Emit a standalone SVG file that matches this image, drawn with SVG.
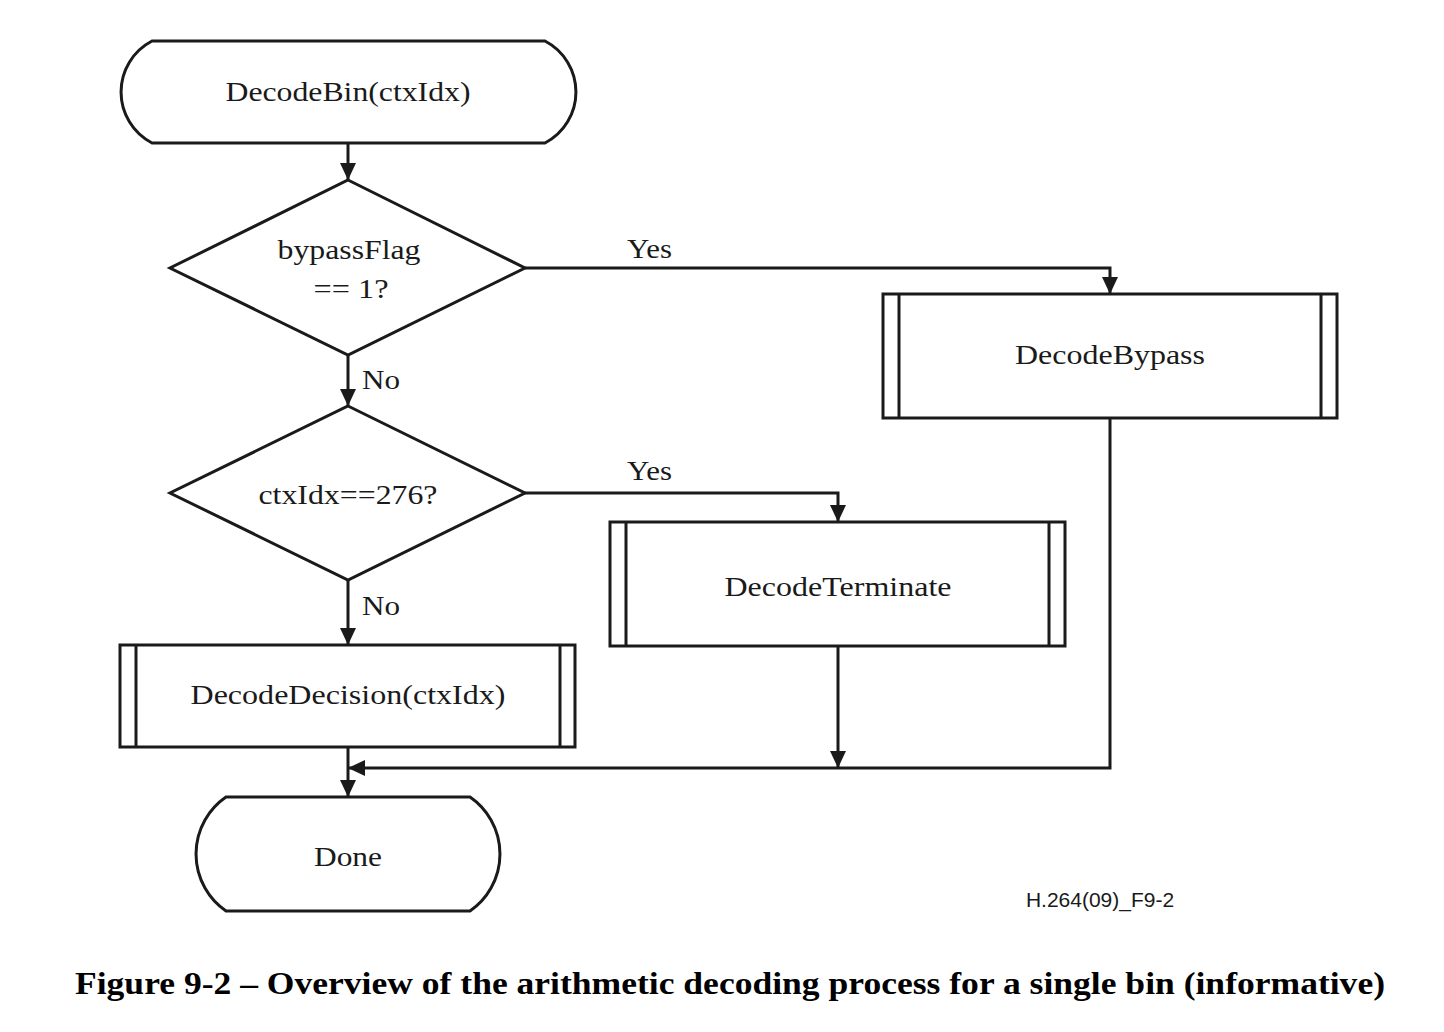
<svg xmlns="http://www.w3.org/2000/svg" width="1444" height="1032" viewBox="0 0 1444 1032">
<defs>
<marker id="ah" markerWidth="17" markerHeight="16" refX="17" refY="8" orient="auto" markerUnits="userSpaceOnUse">
<path d="M0,0 L17,8 L0,16 Z" fill="#1a1a1a"/>
</marker>
<style>
.s{fill:#fff;stroke:#1a1a1a;stroke-width:3}
.l{fill:none;stroke:#1a1a1a;stroke-width:3}
.t{font-family:"Liberation Serif","Times New Roman",serif;font-size:28px;fill:#1a1a1a;text-anchor:middle}
.lb{font-family:"Liberation Serif","Times New Roman",serif;font-size:28px;fill:#1a1a1a}
.c{fill:none;stroke:#1a1a1a;stroke-width:3;marker-end:url(#ah)}
</style>
</defs>
<rect width="1444" height="1032" fill="#fff"/>
<g id="connectors">
<path class="c" d="M348,143 L348,180"/>
<path class="c" d="M525,268 L1110,268 L1110,294"/>
<path class="c" d="M348,355 L348,406"/>
<path class="c" d="M525,493 L838,493 L838,522"/>
<path class="c" d="M348,580 L348,645"/>
<path class="c" d="M348,747 L348,797"/>
<path class="c" d="M1110,418 L1110,768 L348,768"/>
<path class="c" d="M838,646 L838,768"/>
<text class="lb" x="627" y="258" textLength="45" lengthAdjust="spacingAndGlyphs">Yes</text>
<text class="lb" x="627" y="480" textLength="45" lengthAdjust="spacingAndGlyphs">Yes</text>
<text class="lb" x="362" y="389" textLength="38" lengthAdjust="spacingAndGlyphs">No</text>
<text class="lb" x="362" y="615" textLength="38" lengthAdjust="spacingAndGlyphs">No</text>
</g>
<g id="start">
<path class="s" d="M152,41 L545,41 A57.5,57.5 0 0 1 545,143 L152,143 A57.5,57.5 0 0 1 152,41 Z"/>
<text class="t" x="348" y="101" textLength="245" lengthAdjust="spacingAndGlyphs">DecodeBin(ctxIdx)</text>
</g>
<g id="bypassFlag">
<path class="s" d="M348,180 L525,268 L348,355 L170,268 Z"/>
<text class="t" x="349" y="259" textLength="143" lengthAdjust="spacingAndGlyphs">bypassFlag</text>
<text class="t" x="351" y="298" textLength="75" lengthAdjust="spacingAndGlyphs">== 1?</text>
</g>
<g id="ctxIdx276">
<path class="s" d="M348,406 L525,493 L348,580 L170,493 Z"/>
<text class="t" x="348" y="504" textLength="179" lengthAdjust="spacingAndGlyphs">ctxIdx==276?</text>
</g>
<g id="decodeBypass">
<rect class="s" x="883" y="294" width="454" height="124"/>
<path class="l" d="M899,294 V418 M1321,294 V418"/>
<text class="t" x="1110" y="364" textLength="190" lengthAdjust="spacingAndGlyphs">DecodeBypass</text>
</g>
<g id="decodeTerminate">
<rect class="s" x="610" y="522" width="455" height="124"/>
<path class="l" d="M626,522 V646 M1049,522 V646"/>
<text class="t" x="838" y="596" textLength="227" lengthAdjust="spacingAndGlyphs">DecodeTerminate</text>
</g>
<g id="decodeDecision">
<rect class="s" x="120" y="645" width="455" height="102"/>
<path class="l" d="M136,645 V747 M560,645 V747"/>
<text class="t" x="348" y="704" textLength="315" lengthAdjust="spacingAndGlyphs">DecodeDecision(ctxIdx)</text>
</g>
<g id="done">
<path class="s" d="M226,797 L470,797 A69.2,69.2 0 0 1 470,911 L226,911 A69.2,69.2 0 0 1 226,797 Z"/>
<text class="t" x="348" y="866" textLength="68" lengthAdjust="spacingAndGlyphs">Done</text>
</g>
<text x="1100" y="907" font-family="Liberation Sans,Arial,sans-serif" font-size="21" fill="#1a1a1a" text-anchor="middle">H.264(09)_F9-2</text>
<text x="730" y="994" font-family="Liberation Serif,'Times New Roman',serif" font-size="32" font-weight="bold" fill="#000" text-anchor="middle" textLength="1310" lengthAdjust="spacingAndGlyphs">Figure 9-2 – Overview of the arithmetic decoding process for a single bin (informative)</text>
</svg>
